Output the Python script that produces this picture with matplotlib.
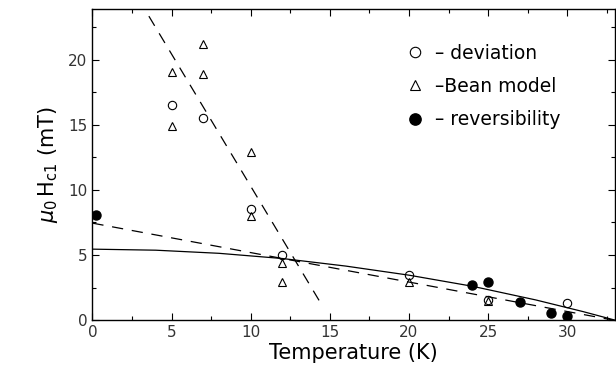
import matplotlib
matplotlib.use("Agg")
import matplotlib.pyplot as plt
from matplotlib.ticker import MultipleLocator

# data
dev_T = [5, 7, 10, 12, 20, 25, 30]
dev_H = [16.5, 15.5, 8.5, 5.0, 3.45, 1.55, 1.3]

bean_T = [5, 5, 7, 7, 10, 10, 12, 12, 20, 25]
bean_H = [19.1, 14.9, 21.2, 18.9, 12.9, 8.0, 4.4, 2.95, 2.95, 1.5]

rev_T = [0.2, 24, 25, 27, 29, 30]
rev_H = [8.05, 2.7, 2.9, 1.4, 0.55, 0.35]

# steep dashed line (low-T fit), endpoints
steep_T = [0.0, 14.35]
steep_H = [30.6, 1.45]

# shallow dashed line
shallow_T = [0.0, 32.9]
shallow_H = [7.45, 0.0]

# solid curve, points
curve_T = [0, 4, 8, 12, 16, 20, 24, 28, 31, 33]
curve_H = [5.45, 5.37, 5.13, 4.73, 4.15, 3.45, 2.6, 1.55, 0.65, 0.0]

fig = plt.figure(figsize=(6.16, 3.77), dpi=100)
ax = fig.add_axes([0.150, 0.151, 0.848, 0.825])

ax.plot(curve_T, curve_H, color="black", lw=0.9)
ax.plot(steep_T, steep_H, color="black", lw=0.9, dashes=(9, 7))
ax.plot(shallow_T, shallow_H, color="black", lw=0.9, dashes=(9, 7))

ax.plot(dev_T, dev_H, "o", ms=6, mfc="none", mec="black", mew=0.8,
        label="\u2013 deviation", linestyle="none")
ax.plot(bean_T, bean_H, "^", ms=6, mfc="none", mec="black", mew=0.8,
        label="\u2013Bean model", linestyle="none")
ax.plot(rev_T, rev_H, "o", ms=6.5, mfc="black", mec="black",
        label="\u2013 reversibility", linestyle="none")

ax.set_xlim(0, 33)
ax.set_ylim(0, 23.9)
ax.xaxis.set_major_locator(MultipleLocator(5))
ax.xaxis.set_minor_locator(MultipleLocator(2.5))
ax.yaxis.set_major_locator(MultipleLocator(5))
ax.yaxis.set_minor_locator(MultipleLocator(2.5))
ax.tick_params(which="both", direction="in", top=True, right=True,
               labelsize=11, labelcolor="#333333")
ax.tick_params(which="major", length=5, width=0.8)
ax.tick_params(which="minor", length=3, width=0.8)
for s in ax.spines.values():
    s.set_linewidth(1.0)

ax.set_xlabel("Temperature (K)", fontsize=15, labelpad=2)
ax.set_ylabel(r"$\mu_0\,$H$_{\mathrm{c1}}$ (mT)", fontsize=15, labelpad=6)

ax.legend(loc="upper left", bbox_to_anchor=(0.575, 0.93), frameon=False,
          fontsize=13.5, handletextpad=0.55, labelspacing=0.75,
          handlelength=1.0, borderpad=0.2, markerscale=1.25)

fig.savefig("out.png", dpi=100)
